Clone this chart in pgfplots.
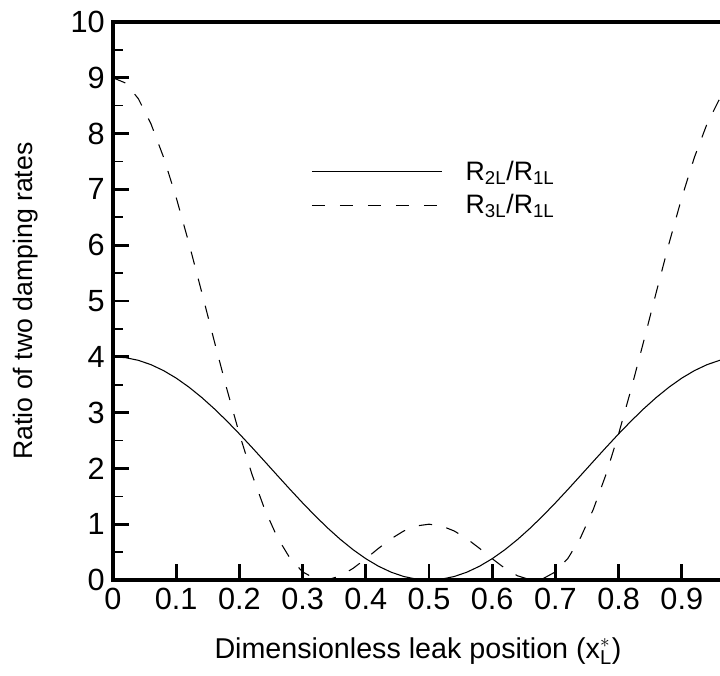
\documentclass[border=0pt]{standalone}
\usepackage{fontspec}
\setmainfont{Liberation Sans}
\usepackage{pgfplots}
\pgfplotsset{compat=1.18}
\begin{document}
\begin{tikzpicture}
\begin{axis}[
  at={(0pt,0pt)}, anchor=south west,
  scale only axis, width=474pt, height=418.5pt,
  xmin=0, xmax=1, ymin=0, ymax=10,
  xtick={0,0.1,0.2,0.3,0.4,0.5,0.6,0.7,0.8,0.9},
  xticklabels={0,0.1,0.2,0.3,0.4,0.5,0.6,0.7,0.8,0.9},
  ytick={0,1,2,3,4,5,6,7,8,9,10},
  minor y tick num=1,
  xtick pos=bottom, ytick pos=left,
  tick align=inside,
  major tick length=12pt, minor tick length=7.5pt,
  every major tick/.append style={line width=2.2pt, black},
  every minor tick/.append style={line width=1.2pt, black},
  axis line style={line width=2.6pt},
  /pgf/number format/assume math mode=true,
  ticklabel style={font=\fontsize{23}{27}\selectfont, inner sep=0pt},
  xticklabel style={anchor=north, yshift=-6pt},
  yticklabel style={anchor=east, xshift=-6pt},
  xlabel={Dimensionless leak position ($\mathrm{x}^{*}_{\mathrm{L}}$)},
  ylabel={Ratio of two damping rates},
  xlabel style={font=\fontsize{21.5}{25}\selectfont, inner sep=0pt,
    at={(axis description cs:0.4826,0)}, anchor=base, yshift=-58.5pt},
  ylabel style={font=\fontsize{20}{24}\selectfont, inner sep=0pt,
    at={(axis description cs:-0.1266,0.5)}, anchor=base},
  legend cell align=left,
  legend style={draw=none, fill=none, inner sep=0pt, at={(axis cs:0.3133,7.016)}, anchor=west,
    font=\fontsize{20}{24}\selectfont, row sep=9pt,
    nodes={inner sep=0pt}},
  legend image code/.code={\draw[#1] (0pt,0pt) -- (98pt,0pt); \path (115pt,0pt);},
]
\addplot[black, line width=0.8pt] coordinates {
(0,4) (0.02,3.98422) (0.04,3.93716) (0.06,3.85956) (0.08,3.75262) (0.10,3.61804)
(0.12,3.45794) (0.14,3.27484) (0.16,3.07166) (0.18,2.85156) (0.20,2.61804)
(0.22,2.37476) (0.24,2.12558) (0.26,1.87442) (0.28,1.62524) (0.30,1.38196)
(0.32,1.14844) (0.34,0.92834) (0.36,0.72516) (0.38,0.54206) (0.40,0.38196)
(0.42,0.24738) (0.44,0.14044) (0.46,0.06284) (0.48,0.01578) (0.50,0)
(0.52,0.01578) (0.54,0.06284) (0.56,0.14044) (0.58,0.24738) (0.60,0.38196)
(0.62,0.54206) (0.64,0.72516) (0.66,0.92834) (0.68,1.14844) (0.70,1.38196)
(0.72,1.62524) (0.74,1.87442) (0.76,2.12558) (0.78,2.37476) (0.80,2.61804)
(0.82,2.85156) (0.84,3.07166) (0.86,3.27484) (0.88,3.45794) (0.90,3.61804)
(0.92,3.75262) (0.94,3.85956) (0.96,3.93716) (0.98,3.98422) (1.00,4)
};
\addlegendentry{R\textsubscript{2L}/R\textsubscript{1L}}
\addplot[black, line width=0.8pt, dash pattern=on 10pt off 11pt] coordinates {
(0,9) (0.02,8.9056) (0.04,8.6269) (0.06,8.1771) (0.08,7.5769) (0.10,6.8541)
(0.12,6.0415) (0.14,5.1749) (0.16,4.2918) (0.18,3.4283) (0.20,2.6180)
(0.22,1.8900) (0.24,1.2669) (0.26,0.7646) (0.28,0.3909) (0.30,0.1459)
(0.32,0.0220) (0.3333,0) (0.34,0.0051) (0.36,0.0755) (0.38,0.2097) (0.40,0.3820)
(0.42,0.5664) (0.44,0.7388) (0.46,0.8783) (0.48,0.9687) (0.50,1)
(0.52,0.9687) (0.54,0.8783) (0.56,0.7388) (0.58,0.5664) (0.60,0.3820)
(0.62,0.2097) (0.64,0.0755) (0.66,0.0051) (0.6667,0) (0.68,0.0220) (0.70,0.1459)
(0.72,0.3909) (0.74,0.7646) (0.76,1.2669) (0.78,1.8900) (0.80,2.6180)
(0.82,3.4283) (0.84,4.2918) (0.86,5.1749) (0.88,6.0415) (0.90,6.8541)
(0.92,7.5769) (0.94,8.1771) (0.96,8.6269) (0.98,8.9056) (1.00,9)
};
\addlegendentry{R\textsubscript{3L}/R\textsubscript{1L}}
\end{axis}
\pgfresetboundingbox
\path[use as bounding box] (-84.75pt,-71.25pt) rectangle (455.25pt,435pt);
\end{tikzpicture}
\end{document}
